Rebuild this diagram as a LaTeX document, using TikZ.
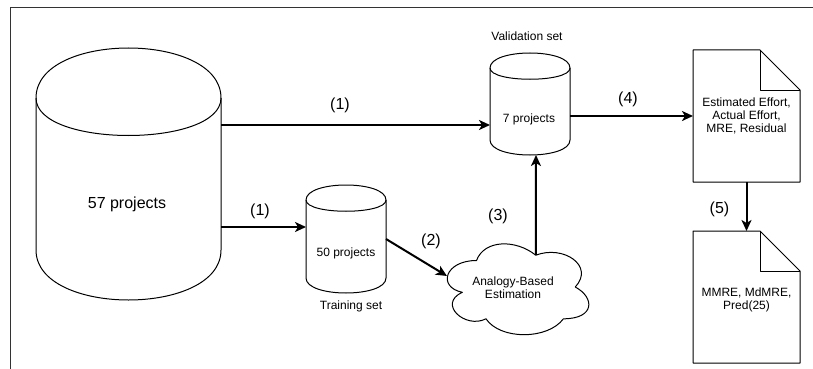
\documentclass[tikz,border=0pt]{standalone}
\usepackage{fontspec}
\setmainfont{Liberation Sans}
\usetikzlibrary{arrows.meta,calc}
\newcommand\dbcyl[6]{% name, x0, y0, w, h, dy
  \node[box,minimum width=#4pt,minimum height=#5pt] (#1) at (#2+#4/2,#3+#5/2) {};
  \draw[shp] (#2,#3+#6) .. controls (#2,#3-#6/3) and (#2+#4,#3-#6/3) .. (#2+#4,#3+#6)
    -- (#2+#4,#3+#5-#6) .. controls (#2+#4,#3+#5+#6/3) and (#2,#3+#5+#6/3) .. (#2,#3+#5-#6) -- cycle;
  \draw[shp] (#2,#3+#6) .. controls (#2,#3+2*#6) and (#2+#4,#3+2*#6) .. (#2+#4,#3+#6);}
\newcommand\docshape[6]{% name, x0, y0, w, h, fold
  \node[box,minimum width=#4pt,minimum height=#5pt] (#1) at (#2+#4/2,#3+#5/2) {};
  \draw[shp] (#2,#3) -- (#2+#4-#6,#3) -- (#2+#4,#3+#6) -- (#2+#4,#3+#5) -- (#2,#3+#5) -- cycle;
  \draw[shp] (#2+#4-#6,#3) -- (#2+#4-#6,#3+#6) -- (#2+#4,#3+#6);}
\begin{document}
\begin{tikzpicture}[x=1pt,y=-1pt,
  shp/.style={draw=black,line width=1pt,line join=round},
  arr/.style={draw=black,line width=2pt,-{Stealth[length=11pt,width=10pt,inset=3pt]}},
  box/.style={draw=none,inner sep=0pt,outer sep=0pt,rectangle},
  small/.style={font=\fontsize{12}{13}\selectfont,inner sep=0pt,align=center},
  bigtxt/.style={font=\fontsize{16}{19}\selectfont,inner sep=0pt},
  lbl/.style={font=\fontsize{16}{19}\selectfont,inner sep=0pt}]
\useasboundingbox (0,0) rectangle (813,369);
% frame
\draw[line width=1pt,draw=black!80] (10,369) -- (10,8) -- (813,8);

% cylinders
\dbcyl{bigc}{36}{48}{185}{252}{50}
\dbcyl{train}{306}{185}{80}{108}{15}
\dbcyl{val}{490}{53}{80}{102}{15}

% cloud
\begin{scope}[shift={(437,234)},x=158pt,y=-106pt]
  \node[box,minimum width=158pt,minimum height=106pt] (cloud) at (0.5,0.5) {};
  \coordinate (cloudtop) at (0.625,0.2);
  \draw[shp] (0.25,0.25) .. controls (0.05,0.25) and (0,0.5) .. (0.16,0.55)
    .. controls (0,0.66) and (0.18,0.9) .. (0.31,0.8)
    .. controls (0.4,1) and (0.7,1) .. (0.8,0.8)
    .. controls (1,0.8) and (1,0.6) .. (0.875,0.5)
    .. controls (1,0.3) and (0.8,0.1) .. (0.625,0.2)
    .. controls (0.5,0.05) and (0.3,0.05) .. (0.25,0.25) -- cycle;
\end{scope}

% documents
\docshape{doca}{693}{50}{107}{132}{40}
\docshape{docb}{693}{231}{107}{132}{40}

% texts
\node[bigtxt] (t57) at (127,204) {57 projects};
\node[small] (t50) at (346,253) {50 projects};
\node[small] (ttrain) at (351,306) {Training set};
\node[small] (t7) at (529,119) {7 projects};
\node[small] (tval) at (527,36) {Validation set};
\node[small] (tabe) at (513,288) {Analogy-Based\\Estimation};
\node[small] (tdoca) at (746.5,116) {Estimated Effort,\\Actual Effort,\\MRE, Residual};
\node[small] (tdocb) at (746.5,299.5) {MMRE, MdMRE,\\Pred(25)};

% connectors
\draw[arr] ([yshift=49pt]bigc.east) -- ([yshift=-21pt]val.west);
\draw[arr] ([yshift=-53pt]bigc.east) -- ([yshift=12pt]train.west);
\draw[arr] (train.east) -- ([xshift=-69pt,yshift=11pt]cloud.center);
\draw[arr] (cloudtop) -- ([xshift=6pt]val.south);
\draw[arr] ([yshift=-12pt]val.east) -- (doca.west);
\draw[arr] (doca.south) -- (docb.north);

% connector labels
\node[lbl] (l1a) at (340,105) {(1)};
\node[lbl] (l1b) at (260,211) {(1)};
\node[lbl] (l2) at (431,241) {(2)};
\node[lbl] (l3) at (498,216) {(3)};
\node[lbl] (l4) at (628,99.5) {(4)};
\node[lbl] (l5) at (719.5,209.5) {(5)};
\end{tikzpicture}
\end{document}
